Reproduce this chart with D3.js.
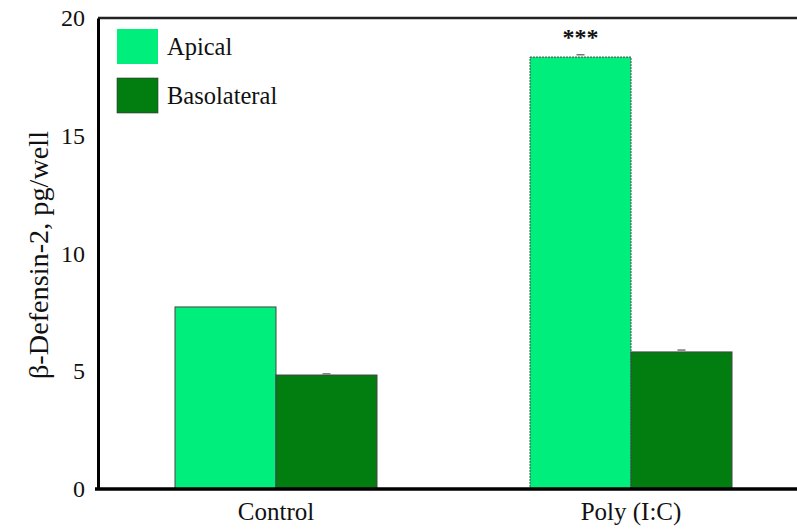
<!DOCTYPE html>
<html>
<head>
<meta charset="utf-8">
<script src="https://d3js.org/d3.v7.min.js"></script>
<style>
  body { margin: 0; background: #fff; }
  text { font-family: "Liberation Serif", "DejaVu Serif", serif; fill: #111; }
</style>
</head>
<body>
<script>
// DATA
const groups = ["Control", "Poly (I:C)"];
const seriesNames = ["Apical", "Basolateral"];
const apical = [7.73, 18.34];
const basolateral = [4.84, 5.82];
const apicalErr = [0.0, 0.1];
const basolateralErr = [0.05, 0.08];
const yTicks = [0, 5, 10, 15, 20];
const colors = ["#00ee7b", "#027d10"];

// CONFIG
const width = 797, height = 531;
const padding = { left: 98, top: 18, right: 0, bottom: 42 };

const svg = d3.select("body").append("svg")
  .attr("width", width).attr("height", height);

const yScale = d3.scaleLinear().domain([0, 20])
  .range([height - padding.bottom, padding.top]);

const xScale = d3.scaleBand().domain(groups)
  .range([104, 803]).paddingInner(0.431).paddingOuter(0.2);

const xSub = d3.scaleBand().domain(seriesNames)
  .range([0, xScale.bandwidth()]);

const rows = [];
groups.forEach((g, i) => {
  rows.push({ g, s: "Apical", v: apical[i], e: apicalErr[i], c: colors[0] });
  rows.push({ g, s: "Basolateral", v: basolateral[i], e: basolateralErr[i], c: colors[1] });
});

// BARS
svg.selectAll("rect.bar").data(rows).enter().append("rect")
  .attr("class", "bar")
  .attr("x", d => xScale(d.g) + xSub(d.s))
  .attr("width", xSub.bandwidth())
  .attr("y", d => yScale(d.v))
  .attr("height", d => yScale(0) - yScale(d.v))
  .attr("fill", d => d.c)
  .attr("stroke", "#444")
  .attr("stroke-width", 1)
  .attr("stroke-dasharray", d => d.g === "Poly (I:C)" && d.s === "Apical" ? "2,1" : null);

// ERROR BARS
svg.selectAll("line.err").data(rows.filter(d => d.e > 0)).enter().append("line")
  .attr("x1", d => xScale(d.g) + xSub(d.s) + xSub.bandwidth() / 2 - 4)
  .attr("x2", d => xScale(d.g) + xSub(d.s) + xSub.bandwidth() / 2 + 4)
  .attr("y1", d => yScale(d.v + d.e))
  .attr("y2", d => yScale(d.v + d.e))
  .attr("stroke", "#777").attr("stroke-width", 1.5);

// significance
svg.append("text")
  .attr("x", xScale("Poly (I:C)") + xSub("Apical") + xSub.bandwidth() / 2)
  .attr("y", yScale(18.34) - 12)
  .attr("text-anchor", "middle")
  .style("font-size", "24px")
  .style("font-weight", "bold")
  .text("***");

// AXES
svg.append("line")
  .attr("x1", padding.left).attr("x2", width)
  .attr("y1", padding.top).attr("y2", padding.top)
  .attr("stroke", "#222").attr("stroke-width", 2.5);

const yAxis = svg.append("g")
  .attr("transform", `translate(${padding.left},0)`)
  .call(d3.axisLeft(yScale).tickValues(yTicks).tickSize(0).tickPadding(13));
yAxis.select(".domain").attr("stroke", "#000").attr("stroke-width", 3);
yAxis.selectAll("text").style("font-size", "24px").attr("font-family", "Liberation Serif");

const xAxis = svg.append("g")
  .attr("transform", `translate(0,${yScale(0)})`)
  .call(d3.axisBottom(xScale).tickSize(0).tickPadding(12));
xAxis.select(".domain").remove();
xAxis.append("line").attr("x1", padding.left - 3).attr("x2", width)
  .attr("stroke", "#000").attr("stroke-width", 3.5);
xAxis.selectAll("text").style("font-size", "25px").attr("font-family", "Liberation Serif")
  .attr("dy", null).attr("y", 31);

svg.append("text")
  .attr("transform", `translate(48,255) rotate(-90)`)
  .attr("text-anchor", "middle")
  .attr("textLength", 248)
  .attr("lengthAdjust", "spacingAndGlyphs")
  .style("font-size", "27px")
  .text("β-Defensin-2, pg/well");

// LEGEND
const legend = svg.append("g").selectAll("g").data(seriesNames).enter().append("g")
  .attr("transform", (d, i) => `translate(117,${29 + i * 49})`);
legend.append("rect")
  .attr("width", 41).attr("height", 35)
  .attr("fill", (d, i) => colors[i])
  .attr("stroke", (d, i) => i === 0 ? "none" : "#333").attr("stroke-width", 0.6);
legend.append("text")
  .attr("x", 50).attr("y", 26)
  .style("font-size", "24.5px")
  .text(d => d);
</script>
</body>
</html>
